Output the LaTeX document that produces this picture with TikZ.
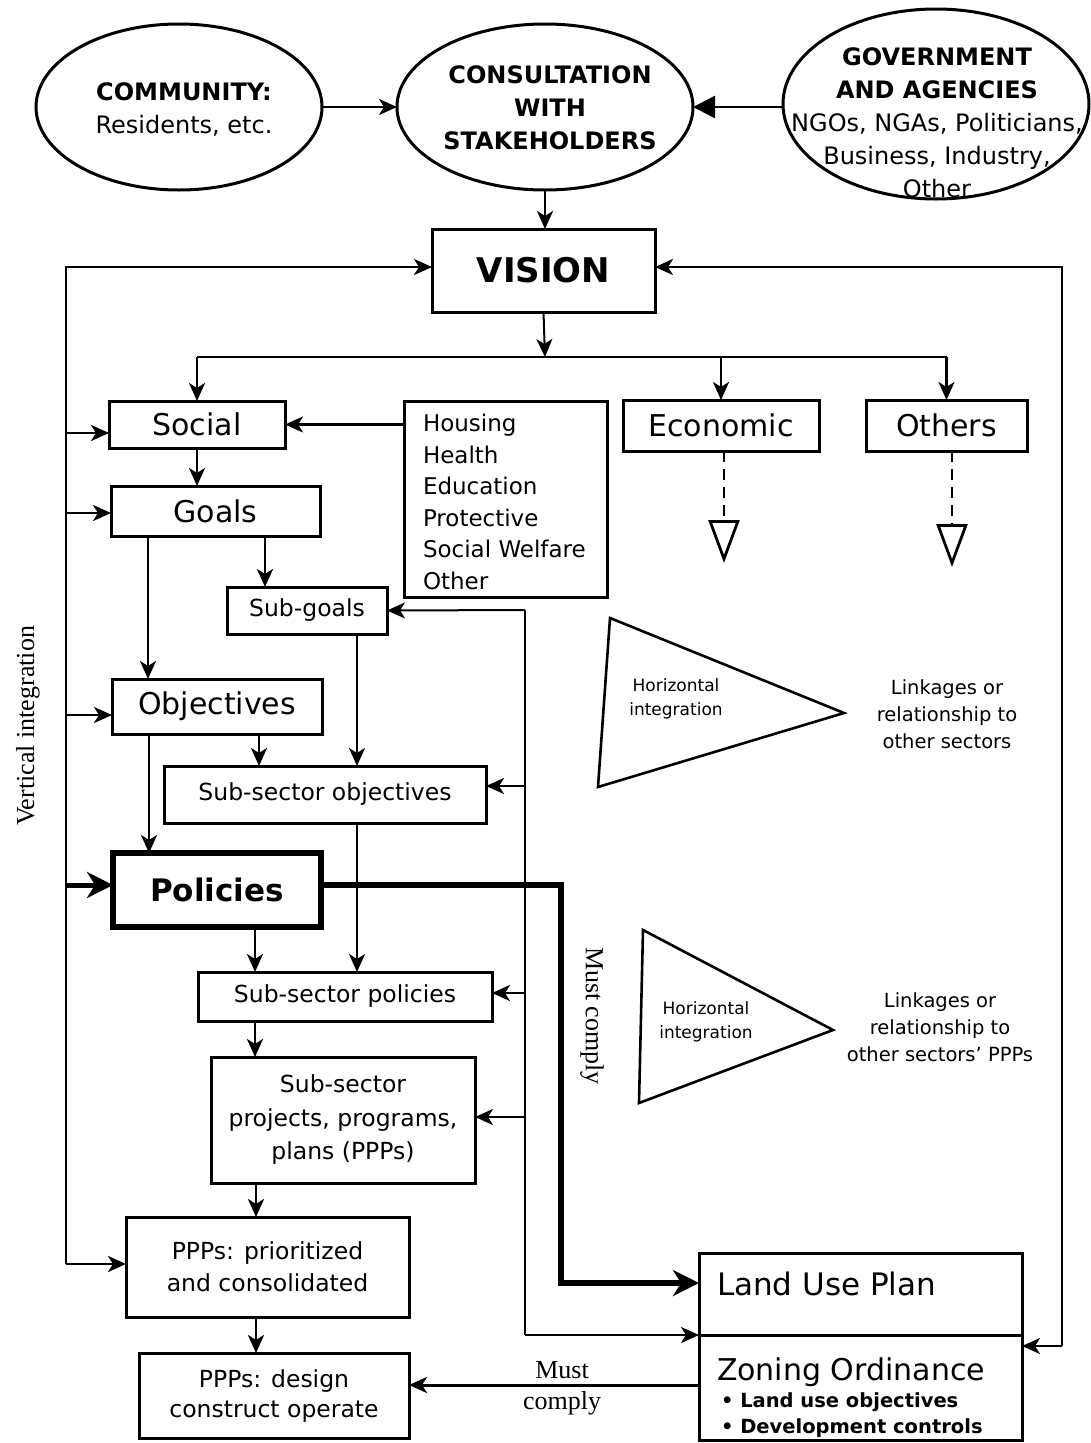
\documentclass[tikz,border=0pt]{standalone}
\usepackage{fontspec}
\setmainfont{DejaVu Sans}
\newfontfamily\timesfont{Liberation Serif}
\usetikzlibrary{arrows.meta,shapes.geometric}

\begin{document}
\begin{tikzpicture}[x=1pt,y=-1pt,
  every node/.style={inner sep=0pt, outer sep=0pt},
  box/.style={draw, line width=3pt},
  oval/.style={draw, ellipse, line width=3pt},
  link/.style={line width=2.6pt, -{Stealth[length=18pt,width=16pt,inset=5pt]}},
  heavy/.style={line width=6pt, line join=miter, -{Stealth[length=26pt,width=26pt,inset=8pt]}},
  plain/.style={line width=2.6pt},
  sector/.style={line width=2.8pt, dash pattern=on 11pt off 7pt,
    -{Triangle[open,length=43pt,width=31pt]}},
  wedge/.style={draw, line width=2.6pt, line join=miter},
  fbig/.style={font=\fontsize{30}{36}\selectfont},
  fmid/.style={font=\fontsize{23.5}{32}\selectfont},
  ftop/.style={font=\fontsize{24}{33}\selectfont},
  fsmall/.style={font=\fontsize{17}{24}\selectfont},
  flink/.style={font=\fontsize{19.5}{27}\selectfont},
  fserif/.style={font=\timesfont\fontsize{26}{31}\selectfont}
]
\useasboundingbox (0,0) rectangle (1091,1443);

% ---- stakeholders ----
\node[oval, minimum width=286pt, minimum height=166pt] (community) at (179,107) {};
\node[ftop, align=center] (communitytext) at (184,109) {\textbf{COMMUNITY:}\\Residents, etc.};
\node[oval, minimum width=296pt, minimum height=166pt] (consult) at (545,107) {};
\node[ftop, align=center] (consulttext) at (550,108) {\textbf{CONSULTATION}\\\textbf{WITH}\\\textbf{STAKEHOLDERS}};
\node[oval, minimum width=306pt, minimum height=190pt] (gov) at (936,104) {};
\node[ftop, align=center] (govtext) at (937,123) {\textbf{GOVERNMENT}\\\textbf{AND AGENCIES}\\NGOs, NGAs, Politicians,\\Business, Industry,\\Other};

\draw[link] (community.east) -- (consult.west);
\draw[line width=2.6pt, -{Triangle[length=22pt,width=22pt]}] (gov.west |- consult.east) -- (consult.east);

% ---- vision ----
\node[box, minimum width=223pt, minimum height=83pt, font=\fontsize{34}{40}\selectfont\bfseries] (vision) at (543.5,270.5) {VISION};
\draw[link] (consult.south) -- (consult.south |- vision.north);

% ---- sectors ----
\node[box, minimum width=176pt, minimum height=47pt, fbig] (social) at (197,424.5) {Social};
\node[box, minimum width=196pt, minimum height=51pt, fbig] (economic) at (721,425.5) {Economic};
\node[box, minimum width=161pt, minimum height=51pt, fbig] (others) at (946.5,425.5) {Others};
\node[box, minimum width=203pt, minimum height=196pt] (sectors) at (505.5,499) {};
\node[align=left, anchor=north west, font=\fontsize{23}{31.6}\selectfont] (sectorlist) at (423,414) {Housing\\Health\\Education\\Protective\\Social Welfare\\Other};

\coordinate (busjoin) at (545,357);
\draw[link, line width=2pt] (vision.south) -- (busjoin);
\draw[plain] (social.north |- busjoin) -- (others.north |- busjoin);
\draw[link] (social.north |- busjoin) -- (social.north);
\draw[link] (economic.north |- busjoin) -- (economic.north);
\draw[link] (others.north |- busjoin) -- (others.north);
\draw[link] (sectors.west |- social.east) -- (social.east);

\coordinate (ecotip) at (724,563);
\coordinate (othtip) at (952,567);
\draw[sector] (ecotip |- economic.south) -- (ecotip);
\draw[sector] (othtip |- others.south) -- (othtip);

% ---- social sector chain ----
\node[box, minimum width=209pt, minimum height=50pt, fbig] (goals) at (215.5,511) {Goals};
\node[box, minimum width=160pt, minimum height=47pt, fmid] (subgoals) at (307,610.5) {Sub-goals};
\node[box, minimum width=210pt, minimum height=55pt, fbig] (objectives) at (217,706.5) {Objectives};
\node[box, minimum width=322pt, minimum height=57pt, fmid] (subobj) at (325,794.5) {Sub-sector objectives};
\node[draw, line width=5.5pt, minimum width=208pt, minimum height=74pt, font=\fontsize{31}{36}\selectfont\bfseries] (policies) at (217,890) {Policies};
\node[box, minimum width=294pt, minimum height=49pt, fmid] (subpol) at (345,996.5) {Sub-sector policies};
\node[box, minimum width=264pt, minimum height=126pt, align=center, font=\fontsize{23.5}{33.5}\selectfont] (projects) at (343,1120) {Sub-sector\\projects, programs,\\plans (PPPs)};
\node[box, minimum width=283pt, minimum height=100pt, align=center, font=\fontsize{23.5}{32}\selectfont] (prioritized) at (267.5,1267) {PPPs: prioritized\\and consolidated};
\node[box, minimum width=270pt, minimum height=85pt, align=center, font=\fontsize{23.5}{30}\selectfont] (design) at (274,1395.5) {PPPs: design\\construct operate};

\draw[link] (social.south) -- (social.south |- goals.north);
\draw[link] ([xshift=-67.5pt]goals.south) -- ([xshift=-67.5pt]goals.south |- objectives.north);
\draw[link] ([xshift=49.5pt]goals.south) -- ([xshift=49.5pt]goals.south |- subgoals.north);
\draw[link, line width=2pt] ([xshift=50pt]subgoals.south) -- ([xshift=50pt]subgoals.south |- subobj.north);
\draw[link] ([xshift=42pt]objectives.south) -- ([xshift=42pt]objectives.south |- subobj.north);
\draw[link] ([xshift=-68pt]objectives.south) -- ([xshift=-68pt]objectives.south |- policies.north);
\draw[link, line width=2pt] ([xshift=32pt]subobj.south) -- ([xshift=32pt]subobj.south |- subpol.north);
\draw[link] ([xshift=38pt]policies.south) -- ([xshift=38pt]policies.south |- subpol.north);
\draw[link] ([xshift=-90pt]subpol.south) -- ([xshift=-90pt]subpol.south |- projects.north);
\draw[link] ([xshift=-87pt]projects.south) -- ([xshift=-87pt]projects.south |- prioritized.north);
\draw[link] ([xshift=-11.5pt]prioritized.south) -- ([xshift=-11.5pt]prioritized.south |- design.north);

% ---- land use plan and zoning ----
\node[box, minimum width=323pt, minimum height=82pt] (landuse) at (860.5,1294) {};
\node[box, minimum width=323pt, minimum height=105pt] (zoning) at (860.5,1387.5) {};
\node[anchor=base west, font=\fontsize{31}{36}\selectfont] (landusetext) at (717,1295) {Land Use Plan};
\node[anchor=base west, fbig] (zoningtext) at (717,1380) {Zoning Ordinance};
\node[anchor=base west, font=\fontsize{19.5}{24}\selectfont\bfseries] (bulletone) at (721,1407) {\textbullet\ Land use objectives};
\node[anchor=base west, font=\fontsize{19.5}{24}\selectfont\bfseries] (bullettwo) at (721,1433) {\textbullet\ Development controls};

% ---- compliance links ----
\coordinate (ctop) at (525,610);
\coordinate (cbot) at (525,1335);
\coordinate (c1) at (525,786);
\coordinate (c2) at (525,993);
\coordinate (c3) at (525,1117);
\draw[link, line width=2pt] (ctop) -- (subgoals.east);
\draw[plain, line width=2pt] (ctop) -- (cbot);
\draw[link, line width=2pt] (cbot) -- (cbot -| zoning.west);
\draw[link] (c1) -- (c1 -| subobj.east);
\draw[link] (c2) -- (c2 -| subpol.east);
\draw[link] (c3) -- (c3 -| projects.east);

\coordinate (bend1) at (561,885);
\coordinate (bend2) at (561,1283);
\draw[heavy] (policies.east |- bend1) -- (bend1) -- (bend2) -- (bend2 -| landuse.west);

\coordinate (zd) at (699,1385);
\draw[link, line width=3pt] (zd) -- (zd -| design.east);
\node[fserif, align=center] (mustcomplyh) at (562,1388) {Must\\comply};
\node[fserif, rotate=-90] (mustcomplyv) at (592,1016) {Must comply};

% ---- vertical integration feedback ----
\coordinate (lefttop) at (66,267);
\coordinate (leftbot) at (66,1264);
\coordinate (righttop) at (1062,267);
\coordinate (rightbot) at (1062,1346);
\draw[link] (leftbot) -- (lefttop) -- (vision.west |- lefttop);
\draw[link] (rightbot) -- (righttop) -- (vision.east |- righttop);
\draw[link] (rightbot) -- (rightbot -| zoning.east);
\draw[link] (leftbot) -- (leftbot -| prioritized.west);
\coordinate (vs) at (66,433);
\coordinate (vg) at (66,513);
\coordinate (vo) at (66,715);
\coordinate (vp) at (66,885);
\draw[link] (vs) -- (vs -| social.west);
\draw[link] (vg) -- (vg -| goals.west);
\draw[link] (vo) -- (vo -| objectives.west);
\draw[heavy, line width=5pt] (vp) -- (vp -| policies.west);
\node[fserif, rotate=90] (vertint) at (28,726) {Vertical integration};

% ---- horizontal integration ----
\draw[wedge] (610,618) -- (844,713) -- (598,787) -- cycle;
\node[fsmall, align=center] (horizone) at (676,699) {Horizontal\\integration};
\node[flink, align=center] (linkone) at (947,714) {Linkages or\\relationship to\\other sectors};
\draw[wedge] (643,930) -- (833,1030) -- (639,1103) -- cycle;
\node[fsmall, align=center] (horiztwo) at (706,1022) {Horizontal\\integration};
\node[flink, align=center] (linktwo) at (940,1027) {Linkages or\\relationship to\\other sectors’ PPPs};
\end{tikzpicture}
\end{document}
